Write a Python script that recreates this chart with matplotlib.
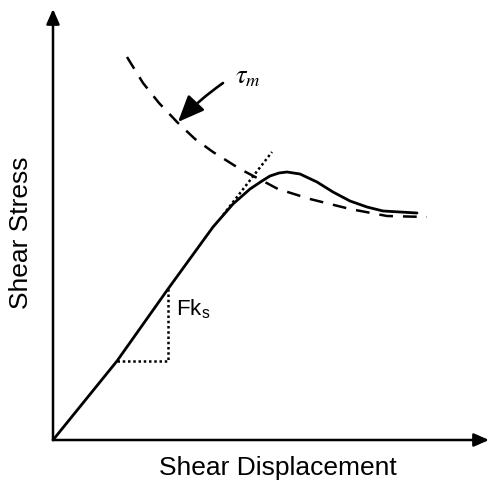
import matplotlib
matplotlib.use("Agg")
import matplotlib.pyplot as plt

plt.rcParams['font.family'] = ['Liberation Sans', 'DejaVu Sans']
plt.rcParams['mathtext.fontset'] = 'stix'

# Data (chart units, origin at axes corner)
curve_x = [0, 64, 115, 160, 180, 197, 209, 217, 226, 234, 247, 264, 280, 297, 314, 330, 347, 364]
curve_y = [0, 79, 151, 213, 236, 251, 259, 264, 267, 268, 266, 258, 248, 239, 233, 229, 228, 227]

tau_x = [74, 90, 106, 125, 142, 160, 187, 208, 225, 257, 297, 334, 374]
tau_y = [383, 357, 337, 317, 301, 288, 271, 260, 251, 241, 231, 224, 223]

tangent_x = [170, 219]
tangent_y = [225, 288]

tri_x = [64, 115, 115]
tri_y = [79, 79, 151]

fig = plt.figure(figsize=(4.9, 4.81), dpi=100)
ax = fig.add_axes([0, 0, 1, 1])
ax.set_xlim(-53, 437)
ax.set_ylim(-40, 441)
ax.axis('off')

# axes arrows
axis_arrow = dict(arrowstyle='-|>,head_length=0.5,head_width=0.22',
                  lw=1.8, color='black', mutation_scale=18, shrinkA=0, shrinkB=0)
ax.annotate('', xy=(436, 0), xytext=(0, 0), arrowprops=axis_arrow)
ax.annotate('', xy=(0, 431), xytext=(0, 0), arrowprops=axis_arrow)

ax.plot(curve_x, curve_y, color='black', lw=2.0, solid_capstyle='round', solid_joinstyle='round')
ax.plot(tau_x, tau_y, color='black', lw=1.8, linestyle=(0, (5.5, 4)))
ax.plot(tangent_x, tangent_y, color='black', lw=1.8, linestyle=(0, (1, 1.1)))
ax.plot(tri_x, tri_y, color='black', lw=1.8, linestyle=(0, (1, 1.1)))

ax.text(123, 133, 'Fk$_\\mathregular{s}$', fontsize=16, ha='left', va='center')

ax.text(195, 364, '$\\tau_m$', fontsize=19, ha='center', va='center')
ax.annotate('', xy=(125, 318), xytext=(170, 357),
            arrowprops=dict(arrowstyle='-|>,head_length=0.9,head_width=0.38',
                            lw=1.9, color='black', mutation_scale=18,
                            connectionstyle='arc3,rad=0.05', shrinkA=0, shrinkB=0))

ax.text(225, -27, 'Shear Displacement', fontsize=19, ha='center', va='center')
ax.text(-32, 208, 'Shear Stress', fontsize=19, ha='center', va='center', rotation=90)

fig.savefig('out.png', dpi=100)
